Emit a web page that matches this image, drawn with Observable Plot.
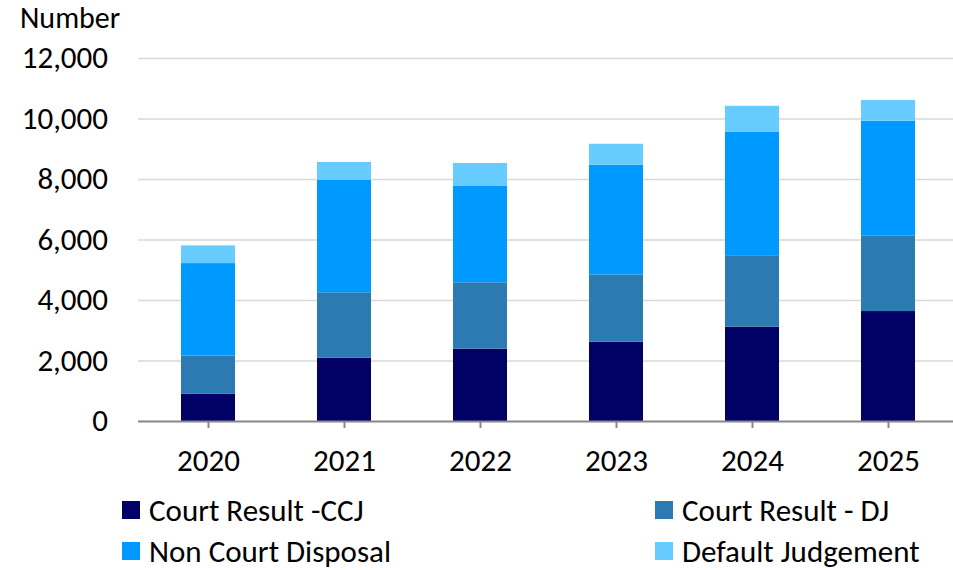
<!DOCTYPE html>
<html>
<head>
<meta charset="utf-8">
<script src="https://cdn.jsdelivr.net/npm/d3@7"></script>
<script src="https://cdn.jsdelivr.net/npm/@observablehq/plot@0.6"></script>
<style>
  html, body { margin: 0; padding: 0; background: #fff; }
  body { width: 953px; height: 570px; position: relative; overflow: hidden;
         font-family: Carlito, Lato, "Open Sans", sans-serif; color: #000; }
  #ylabel { position: absolute; left: 20px; top: 0px; font-size: 30px; line-height: 36px; }
  #chart { position: absolute; left: 0; top: 36px; }
  .leg { position: absolute; font-size: 31px; display: flex; align-items: center; white-space: nowrap; }
  .sw { width: 18px; height: 18px; margin-right: 9px; display: inline-block; }
</style>
</head>
<body>
<div id="ylabel">Number</div>
<div id="chart"></div>
<div id="legend"></div>
<script>
const years = ["2020", "2021", "2022", "2023", "2024", "2025"];
const seriesNames = ["Court Result -CCJ", "Court Result - DJ", "Non Court Disposal", "Default Judgement"];
const seriesColors = ["#000066", "#2C7AB2", "#0099FF", "#66CCFF"];
const courtCCJ = [900, 2095, 2390, 2620, 3120, 3635];
const courtDJ = [1260, 2160, 2195, 2225, 2360, 2500];
const nonCourt = [3060, 3725, 3185, 3625, 4090, 3790];
const defaultJudgement = [585, 585, 760, 695, 850, 685];
const yTicks = [0, 2000, 4000, 6000, 8000, 10000, 12000];

const seriesValues = [courtCCJ, courtDJ, nonCourt, defaultJudgement];
const data = [];
seriesNames.forEach((s, si) => {
  years.forEach((y, i) => data.push({year: y, series: s, value: seriesValues[si][i]}));
});

const font = "Carlito, Lato, 'Open Sans', sans-serif";
const chart = Plot.plot({
  width: 953,
  height: 444,
  marginTop: 22,
  marginBottom: 59,
  marginLeft: 138,
  marginRight: -5,
  style: {fontFamily: font, fontSize: "31px", color: "#000", background: "transparent", overflow: "visible"},
  x: {domain: years, paddingInner: 0.6, paddingOuter: 0.3, label: null},
  y: {domain: [0, 12000], label: null},
  color: {domain: seriesNames, range: seriesColors},
  marks: [
    Plot.gridY(yTicks, {stroke: "#d9d9d9", strokeOpacity: 1, strokeWidth: 1.5}),
    Plot.barY(data, {x: "year", y: "value", fill: "series", order: seriesNames}),
    Plot.ruleY([0], {stroke: "#898989", strokeWidth: 2}),
    Plot.axisY(yTicks, {tickSize: 0, tickPadding: 30.5, tickFormat: d3.format(","), fontSize: 31, label: null}),
    Plot.axisX({tickSize: 7, stroke: "#898989", strokeWidth: 2, tickPadding: 20, fontSize: 31, label: null})
  ]
});
document.getElementById("chart").appendChild(chart);

const legendPos = [[122, 501], [655, 501], [122, 542], [655, 542]];
const leg = document.getElementById("legend");
seriesNames.forEach((s, i) => {
  const d = document.createElement("div");
  d.className = "leg";
  d.style.left = legendPos[i][0] + "px";
  d.style.top = (legendPos[i][1] - 8) + "px";
  d.style.height = "34px";
  const sw = document.createElement("span");
  sw.className = "sw";
  sw.style.background = seriesColors[i];
  d.appendChild(sw);
  d.appendChild(document.createTextNode(s));
  leg.appendChild(d);
});
</script>
</body>
</html>
